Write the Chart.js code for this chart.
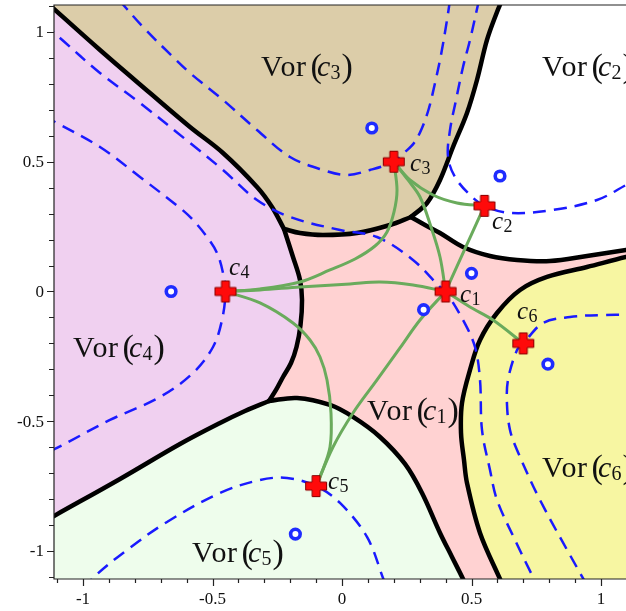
<!DOCTYPE html>
<html>
<head>
<meta charset="utf-8">
<title>Vor cells</title>
<script src="https://cdn.jsdelivr.net/npm/chart.js@4.4.1/dist/chart.umd.min.js"></script>
<style>
  html, body { margin: 0; padding: 0; background: #fff; overflow: hidden; }
  canvas { display: block; }
</style>
</head>
<body>
<canvas id="chart" width="626" height="611"></canvas>
<script>
// visible window of the plot
const X_MIN = -1.112, X_MAX = 1.0965;
const Y_MIN = -1.108, Y_MAX = 1.104;

// ticks
const xMinorTicks = [-1.1, -1.0, -0.9, -0.8, -0.7, -0.6, -0.5, -0.4, -0.3, -0.2, -0.1, 0, 0.1, 0.2, 0.3, 0.4, 0.5, 0.6, 0.7, 0.8, 0.9, 1.0];
const yMinorTicks = [-1.1, -1.0, -0.9, -0.8, -0.7, -0.6, -0.5, -0.4, -0.3, -0.2, -0.1, 0, 0.1, 0.2, 0.3, 0.4, 0.5, 0.6, 0.7, 0.8, 0.9, 1.0, 1.1];
const xMajorTicks = [-1, -0.5, 0, 0.5, 1];
const xTickLabels = ['-1', '-0.5', '0', '0.5', '1'];
const yMajorTicks = [-1, -0.5, 0, 0.5, 1];
const yTickLabels = ['-1', '-0.5', '0', '0.5', '1'];

// sites c1..c6 (red crosses)
const siteNames = ['1', '2', '3', '4', '5', '6'];
const siteX = [0.4, 0.55, 0.2, -0.45, -0.1, 0.7];
const siteY = [0, 0.33, 0.5, 0, -0.75, -0.2];

// blue rings
const ringX = [0.50, 0.315, 0.61, 0.115, -0.66, -0.18, 0.795];
const ringY = [0.07, -0.07, 0.445, 0.63, 0.0, -0.935, -0.28];

// cell boundaries (black)
const bC3C4 = [[-1.1506, 1.1233], [-0.9344, 0.9306], [-0.7413, 0.7649], [-0.5869, 0.6339], [-0.4595, 0.5337], [-0.3282, 0.4027], [-0.2703, 0.3256], [-0.2239, 0.2408]];
const bC4C1 = [[-0.2239, 0.2408], [-0.1892, 0.1329], [-0.1622, 0.0443], [-0.1544, -0.0328], [-0.1602, -0.1291], [-0.1757, -0.2139], [-0.1969, -0.2755], [-0.2278, -0.3295], [-0.2548, -0.3796], [-0.2819, -0.4220]];
const bC4C5 = [[-0.2819, -0.4220], [-0.3745, -0.4605], [-0.4710, -0.5067], [-0.6255, -0.5877], [-0.8571, -0.7225], [-1.1120, -0.8651], [-1.1660, -0.8960]];
const bC5C1 = [[-0.2819, -0.4220], [-0.1737, -0.4104], [-0.0463, -0.4374], [0.0425, -0.4836], [0.1467, -0.5607], [0.2432, -0.6647], [0.3089, -0.7765], [0.3784, -0.9306], [0.4247, -1.0231], [0.4672, -1.1079], [0.4865, -1.1503]];
const bC3C1 = [[-0.2239, 0.2408], [-0.1622, 0.2254], [-0.0734, 0.2177], [0.0579, 0.2254], [0.1853, 0.2563], [0.2664, 0.2871]];
const bC3C2 = [[0.2664, 0.2871], [0.3282, 0.3410], [0.3784, 0.4297], [0.4286, 0.5568], [0.4826, 0.6879], [0.5212, 0.8150], [0.5598, 0.9692], [0.5985, 1.0771], [0.6178, 1.1233]];
const bC2C1 = [[0.2664, 0.2871], [0.3205, 0.2563], [0.3784, 0.2254], [0.4672, 0.1715], [0.5714, 0.1368], [0.6757, 0.1214], [0.8031, 0.1175], [0.9459, 0.1368], [1.0965, 0.1599], [1.1506, 0.1676]];
const bC1C6 = [[1.1506, 0.1445], [1.0965, 0.1329], [0.9459, 0.0944], [0.7915, 0.0559], [0.6873, 0.0058], [0.5985, -0.0829], [0.5328, -0.1869], [0.4942, -0.3025], [0.4633, -0.4297], [0.4595, -0.5453], [0.4710, -0.6493], [0.4826, -0.7380], [0.5328, -0.9306], [0.6100, -1.1079], [0.6293, -1.1503]];

// dashed level curves (blue)
const dashC3 = [[-0.8610, 1.1233], [-0.7683, 1.0193], [-0.6525, 0.9037], [-0.5869, 0.8420], [-0.4595, 0.7380], [-0.3282, 0.6224], [-0.2008, 0.5183], [-0.0734, 0.4682], [0.0193, 0.4489], [0.1081, 0.4682], [0.2, 0.5], [0.2394, 0.5337], [0.2780, 0.5723], [0.3089, 0.6301], [0.3359, 0.7071], [0.3591, 0.8035], [0.3822, 0.9114], [0.4054, 1.0462], [0.4170, 1.1233]];
const dashC1 = [[-1.1506, 1.0308], [-1.0888, 0.9769], [-0.9344, 0.8420], [-0.7799, 0.7264], [-0.5869, 0.5723], [-0.4595, 0.4682], [-0.3282, 0.3526], [-0.2008, 0.2871], [-0.0077, 0.2370], [0.1351, 0.2100], [0.2741, 0.1214], [0.3784, 0.0173], [0.4, 0], [0.4672, -0.1098], [0.5135, -0.2139], [0.5328, -0.3410], [0.5405, -0.5337], [0.5714, -0.6879], [0.5985, -0.8035], [0.6680, -0.9576], [0.7375, -1.1002], [0.7645, -1.1503]];
const dashC4 = [[-1.1506, 0.6763], [-1.1081, 0.6532], [-0.9344, 0.5568], [-0.7799, 0.4412], [-0.6255, 0.3218], [-0.5753, 0.2755], [-0.5212, 0.2100], [-0.4826, 0.1484], [-0.4595, 0.0713], [-0.45, 0], [-0.4633, -0.1098], [-0.4981, -0.2139], [-0.5753, -0.3141], [-0.7027, -0.4066], [-0.8958, -0.4952], [-1.1004, -0.6031], [-1.1506, -0.6262]];
const dashC5 = [[-0.9923, -1.1503], [-0.9614, -1.1040], [-0.8301, -0.9961], [-0.6757, -0.8882], [-0.4710, -0.7765], [-0.3166, -0.7264], [-0.2124, -0.7187], [-0.1, -0.75], [-0.0077, -0.8150], [0.0965, -0.9461], [0.1583, -1.1040], [0.1737, -1.1503]];
const dashC2 = [[0.5290, 1.1233], [0.4942, 0.9692], [0.4672, 0.8651], [0.4402, 0.7380], [0.4170, 0.6224], [0.4093, 0.5183], [0.4363, 0.4412], [0.4942, 0.3719], [0.55, 0.33], [0.6486, 0.3025], [0.8147, 0.3141], [0.9846, 0.3526], [1.0965, 0.4104], [1.1506, 0.4412]];
const dashC6 = [[1.1506, -0.0906], [1.0077, -0.0906], [0.8803, -0.0983], [0.7761, -0.1214], [0.7, -0.2], [0.6757, -0.2254], [0.6409, -0.3410], [0.6371, -0.4374], [0.6486, -0.5337], [0.6757, -0.6108], [0.7645, -0.8035], [0.9189, -1.0848], [0.9575, -1.1503]];

// green links between sites
const linkC4C3 = [[-0.45, 0], [-0.3166, 0.0096], [-0.1622, 0.0366], [-0.0463, 0.0829], [0.0502, 0.1252], [0.1274, 0.1753], [0.1737, 0.2293], [0.2008, 0.3064], [0.2124, 0.3911], [0.2, 0.5]];
const linkC4C1 = [[-0.45, 0], [-0.3166, 0.0058], [-0.1622, 0.0173], [0.0309, 0.0289], [0.1467, 0.0366], [0.2741, 0.0250], [0.4, 0]];
const linkC4C5 = [[-0.45, 0], [-0.3166, -0.0443], [-0.1892, -0.1214], [-0.1236, -0.1869], [-0.0849, -0.2524], [-0.0579, -0.3410], [-0.0425, -0.4682], [-0.0463, -0.5992], [-0.0849, -0.7148], [-0.1, -0.75]];
const linkC5C1 = [[-0.1, -0.75], [-0.0347, -0.5992], [0.0425, -0.4682], [0.1351, -0.3410], [0.2239, -0.2177], [0.3012, -0.1098], [0.4, 0]];
const linkC1C3 = [[0.4, 0], [0.3784, 0.1329], [0.3436, 0.2486], [0.3012, 0.3642], [0.2548, 0.4297], [0.2, 0.5]];
const linkC1C2 = [[0.4, 0], [0.55, 0.33]];
const linkC3C2 = [[0.2, 0.5], [0.2625, 0.4297], [0.3514, 0.3719], [0.4440, 0.3410], [0.55, 0.33]];
const linkC1C6 = [[0.4, 0], [0.4942, -0.0597], [0.5830, -0.1098], [0.7, -0.2]];

// labels: Vor(c_k) anchors (left, baseline) and site label anchors
const cellLabelIdx = ['3', '2', '4', '1', '5', '6'];
const cellLabelX = [-0.3127, 0.7722, -1.0386, 0.0965, -0.5792, 0.7722];
const cellLabelY = [0.8304, 0.8304, -0.2524, -0.4952, -1.0424, -0.7148];
const siteLabelX = [0.4556, 0.5792, 0.2625, -0.4363, -0.0541, 0.6757];
const siteLabelY = [-0.0405, 0.2408, 0.4644, 0.0636, -0.7611, -0.1060];

// ---- build the closed cells from the shared boundaries ----
const rev = a => a.slice().reverse();
const cellC3 = [[-1.2, 1.2], [0.63, 1.2], ...rev(bC3C2), ...rev(bC3C1).slice(1), ...rev(bC3C4).slice(1)];
const cellC4 = [...bC3C4, ...bC4C1.slice(1), ...bC4C5.slice(1), [-1.2, -0.9], [-1.2, 1.13]];
const cellC5 = [...bC5C1, [0.49, -1.2], [-1.2, -1.2], [-1.2, -0.9], ...rev(bC4C5)];
const cellC1 = [...bC3C1, ...bC2C1.slice(1), [1.2, 0.17], [1.2, 0.14], ...bC1C6, [0.63, -1.2], [0.49, -1.2], ...rev(bC5C1), ...rev(bC4C1).slice(1)];
const cellC6 = [...bC1C6, [0.63, -1.2], [1.2, -1.2], [1.2, 0.14]];

const pts = a => a.map(p => ({ x: p[0], y: p[1] }));

function makeCross() {
  const c = document.createElement('canvas');
  c.width = 24; c.height = 24;
  const g = c.getContext('2d');
  const s = 12, t = 4, L = 10.5;
  const poly = [[-t, -L], [t, -L], [t, -t], [L, -t], [L, t], [t, t], [t, L], [-t, L], [-t, t], [-L, t], [-L, -t], [-t, -t]];
  g.beginPath();
  poly.forEach(([dx, dy], i) => i ? g.lineTo(s + dx, s + dy) : g.moveTo(s + dx, s + dy));
  g.closePath();
  g.fillStyle = '#ff0a0a';
  g.fill();
  g.strokeStyle = '#8a0000';
  g.lineWidth = 1;
  g.stroke();
  return c;
}

function cell(data, color) {
  return {
    data: pts(data), showLine: true, fill: 'shape', backgroundColor: color,
    borderColor: 'rgba(0,0,0,0)', borderWidth: 0, pointRadius: 0, tension: 0, order: 10
  };
}
function curve(data, color, width, dash, order) {
  return {
    data: pts(data), showLine: true, fill: false, borderColor: color, borderWidth: width,
    borderDash: dash, pointRadius: 0, tension: 0.35, borderCapStyle: 'round',
    borderJoinStyle: 'round', order: order
  };
}

const BLUE = '#1a1aff';
const GREEN = '#6aab5c';

const datasets = [
  cell(cellC3, '#dccda9'),
  cell(cellC4, '#f0d0f0'),
  cell(cellC5, '#eefdec'),
  cell(cellC1, '#ffd2d2'),
  cell(cellC6, '#f7f6a2'),
  ...[bC3C4, bC4C1, bC4C5, bC5C1, bC3C1, bC3C2, bC2C1, bC1C6].map(b => curve(b, '#000', 4.5, [], 8)),
  ...[dashC3, dashC1, dashC4, dashC5, dashC2, dashC6].map(d => ({ ...curve(d, BLUE, 2.5, [13, 8], 7), borderCapStyle: 'butt' })),
  ...[linkC4C3, linkC4C1, linkC4C5, linkC5C1, linkC1C3, linkC1C2, linkC3C2, linkC1C6].map(l => curve(l, GREEN, 3, [], 6)),
  {
    data: ringX.map((x, i) => ({ x, y: ringY[i] })), showLine: false, pointRadius: 4.8,
    pointStyle: 'circle', pointBorderWidth: 3.6, pointBorderColor: '#1f2cff',
    pointBackgroundColor: '#ffffff', order: 5
  },
  {
    data: siteX.map((x, i) => ({ x, y: siteY[i] })), showLine: false, pointRadius: 11,
    pointStyle: makeCross(), order: 4
  }
];

const SERIF = '"Liberation Serif", "DejaVu Serif", serif';

const frameAxes = {
  id: 'frameAxes',
  afterDatasetsDraw(chart) {
    const { ctx, chartArea: a, scales: { x, y } } = chart;
    ctx.save();
    ctx.strokeStyle = '#222';
    ctx.lineWidth = 1.2;
    ctx.beginPath();
    ctx.moveTo(a.right, a.top); ctx.lineTo(a.left, a.top);
    ctx.lineTo(a.left, a.bottom); ctx.lineTo(a.right, a.bottom);
    xMinorTicks.forEach(v => {
      const px = Math.round(x.getPixelForValue(v)) + 0.5;
      const len = xMajorTicks.includes(v) ? 7 : 4;
      ctx.moveTo(px, a.bottom); ctx.lineTo(px, a.bottom + len);
    });
    yMinorTicks.forEach(v => {
      const py = Math.round(y.getPixelForValue(v)) + 0.5;
      const len = yMajorTicks.includes(v) ? 7 : 5;
      ctx.moveTo(a.left, py); ctx.lineTo(a.left - len, py);
    });
    ctx.stroke();

    ctx.fillStyle = '#111';
    ctx.font = '17px ' + SERIF;
    ctx.textAlign = 'center';
    ctx.textBaseline = 'alphabetic';
    xMajorTicks.forEach((v, i) => ctx.fillText(xTickLabels[i], x.getPixelForValue(v), a.bottom + 25));
    ctx.textAlign = 'right';
    ctx.textBaseline = 'middle';
    yMajorTicks.forEach((v, i) => ctx.fillText(yTickLabels[i], a.left - 10, y.getPixelForValue(v) + 1));
    ctx.restore();
  }
};

const mathLabels = {
  id: 'mathLabels',
  afterDatasetsDraw(chart) {
    const { ctx, scales: { x, y } } = chart;
    ctx.save();
    ctx.fillStyle = '#111';
    ctx.textAlign = 'left';
    ctx.textBaseline = 'alphabetic';
    const put = (t, font, px, py) => { ctx.font = font; ctx.fillText(t, px, py); };

    cellLabelIdx.forEach((k, i) => {
      const lx = x.getPixelForValue(cellLabelX[i]);
      const ly = y.getPixelForValue(cellLabelY[i]);
      put('V', '30px ' + SERIF, lx, ly);
      put('o', '30px ' + SERIF, lx + 19.5, ly);
      put('r', '30px ' + SERIF, lx + 35, ly);
      put('(', '34px ' + SERIF, lx + 49.5, ly + 1);
      put('c', 'italic 30px ' + SERIF, lx + 56, ly);
      put(k, '20px ' + SERIF, lx + 69.5, ly + 3);
      put(')', '34px ' + SERIF, lx + 80.5, ly + 1);
    });

    siteNames.forEach((k, i) => {
      const lx = x.getPixelForValue(siteLabelX[i]);
      const ly = y.getPixelForValue(siteLabelY[i]);
      put('c', 'italic 25px ' + SERIF, lx, ly);
      put(k, '18px ' + SERIF, lx + 11.5, ly + 3.5);
    });
    ctx.restore();
  }
};

new Chart(document.getElementById('chart'), {
  type: 'scatter',
  data: { datasets },
  options: {
    responsive: false,
    animation: false,
    events: [],
    clip: 0,
    layout: { autoPadding: false, padding: { left: 54, top: 5, right: 0, bottom: 32 } },
    scales: {
      x: { type: 'linear', min: X_MIN, max: X_MAX, display: false },
      y: { type: 'linear', min: Y_MIN, max: Y_MAX, display: false }
    },
    plugins: { legend: { display: false }, tooltip: { enabled: false } }
  },
  plugins: [frameAxes, mathLabels]
});
</script>
</body>
</html>
